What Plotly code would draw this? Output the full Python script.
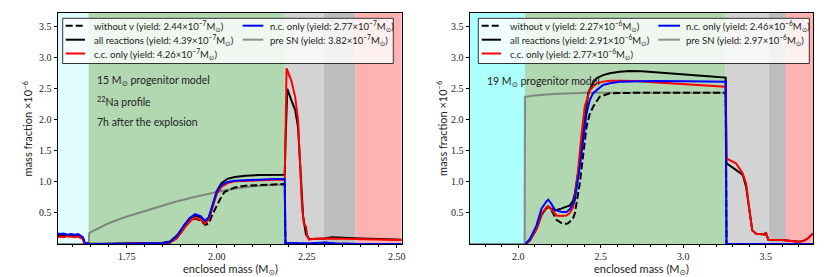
import plotly.graph_objects as go

# ---------------- data: left panel (15 Msun) ----------------
L_x_all = [1.559, 1.565, 1.575, 1.585, 1.595, 1.605, 1.615, 1.622, 1.628, 1.632,
           1.645, 1.70, 1.75, 1.80, 1.85, 1.87, 1.89, 1.91, 1.925, 1.94,
           1.955, 1.968, 1.978, 1.99, 2.00, 2.013, 2.03, 2.05, 2.08, 2.12,
           2.16, 2.189, 2.191, 2.196, 2.207, 2.218, 2.226, 2.233, 2.240, 2.248,
           2.258, 2.27, 2.30, 2.32, 2.35, 2.40, 2.45, 2.514]
L_y_all = [0.15, 0.14, 0.15, 0.13, 0.15, 0.14, 0.14, 0.12, 0.10, 0.02,
           0.005, 0.005, 0.01, 0.02, 0.02, 0.04, 0.14, 0.30, 0.41, 0.46,
           0.43, 0.37, 0.42, 0.64, 0.85, 0.98, 1.05, 1.08, 1.10, 1.11,
           1.115, 1.115, 1.60, 2.50, 2.32, 2.16, 1.88, 1.20, 0.45, 0.15,
           0.08, 0.08, 0.09, 0.11, 0.10, 0.09, 0.08, 0.07]

L_x_cc = [1.559, 1.565, 1.575, 1.585, 1.595, 1.605, 1.615, 1.622, 1.628, 1.632,
          1.645, 1.70, 1.75, 1.80, 1.85, 1.87, 1.89, 1.91, 1.925, 1.94,
          1.955, 1.968, 1.978, 1.99, 2.00, 2.013, 2.03, 2.05, 2.08, 2.12,
          2.16, 2.189, 2.191, 2.194, 2.207, 2.218, 2.226, 2.232, 2.237, 2.242,
          2.248, 2.252, 2.256, 2.27, 2.30, 2.35, 2.40, 2.45, 2.514]
L_y_cc = [0.11, 0.12, 0.11, 0.13, 0.12, 0.11, 0.12, 0.10, 0.08, 0.01,
          0.0, 0.0, 0.005, 0.01, 0.01, 0.02, 0.10, 0.26, 0.37, 0.42,
          0.39, 0.33, 0.40, 0.62, 0.80, 0.92, 0.98, 1.01, 1.02, 1.03,
          1.035, 1.035, 2.00, 2.83, 2.64, 2.37, 2.00, 1.20, 0.60, 0.33,
          0.28, 0.12, 0.07, 0.085, 0.09, 0.085, 0.08, 0.075, 0.065]

L_x_nc = [1.559, 1.565, 1.575, 1.585, 1.595, 1.605, 1.615, 1.622, 1.628, 1.634,
          1.645, 1.70, 1.75, 1.80, 1.85, 1.87, 1.89, 1.91, 1.925, 1.94,
          1.955, 1.968, 1.978, 1.99, 2.00, 2.013, 2.03, 2.05, 2.08, 2.12,
          2.16, 2.189, 2.191, 2.25, 2.30, 2.33, 2.40, 2.514]
L_y_nc = [0.17, 0.16, 0.17, 0.15, 0.16, 0.15, 0.16, 0.14, 0.11, 0.02,
          0.0, 0.0, 0.005, 0.015, 0.015, 0.03, 0.13, 0.31, 0.42, 0.48,
          0.45, 0.37, 0.43, 0.66, 0.84, 0.95, 1.00, 1.02, 1.03, 1.04,
          1.045, 1.045, 0.02, 0.01, 0.025, 0.01, 0.0, 0.0]

L_x_nonu = [1.559, 1.565, 1.575, 1.585, 1.595, 1.605, 1.615, 1.622, 1.628, 1.632,
            1.645, 1.70, 1.75, 1.80, 1.85, 1.87, 1.89, 1.91, 1.925, 1.94,
            1.955, 1.968, 1.978, 1.99, 2.00, 2.013, 2.022, 2.05, 2.08, 2.12,
            2.16, 2.189, 2.191, 2.25, 2.30, 2.33, 2.40, 2.514]
L_y_nonu = [0.13, 0.12, 0.13, 0.12, 0.13, 0.12, 0.12, 0.11, 0.09, 0.01,
            0.0, 0.0, 0.005, 0.01, 0.01, 0.02, 0.10, 0.26, 0.36, 0.41,
            0.38, 0.31, 0.33, 0.50, 0.62, 0.76, 0.84, 0.91, 0.94, 0.95,
            0.96, 0.965, 0.01, 0.005, 0.02, 0.005, 0.0, 0.0]

L_x_pre = [1.559, 1.644, 1.646, 1.661, 1.698, 1.744, 1.79, 1.837, 1.883, 1.929,
           1.976, 2.013, 2.05, 2.10, 2.15, 2.189, 2.191, 2.514]
L_y_pre = [0.0, 0.0, 0.18, 0.22, 0.33, 0.43, 0.515, 0.595, 0.675, 0.745,
           0.81, 0.855, 0.89, 0.93, 0.95, 0.96, 0.0, 0.0]

# ---------------- data: right panel (19 Msun) ----------------
R_x_all = [2.045, 2.071, 2.111, 2.141, 2.172, 2.182, 2.20, 2.222, 2.26, 2.293,
           2.313, 2.333, 2.343, 2.363, 2.383, 2.403, 2.424, 2.454, 2.474, 2.514,
           2.555, 2.615, 2.676, 2.75, 2.817, 2.918, 3.019, 3.15, 3.257, 3.262,
           3.321, 3.361, 3.381, 3.401, 3.418, 3.442, 3.482, 3.495, 3.50, 3.505,
           3.515, 3.60, 3.64, 3.70, 3.73, 3.76, 3.786]
R_y_all = [0.0, 0.06, 0.24, 0.47, 0.58, 0.60, 0.57, 0.54, 0.57, 0.60,
           0.62, 0.70, 0.81, 1.15, 1.565, 2.05, 2.43, 2.60, 2.67, 2.72,
           2.75, 2.775, 2.785, 2.78, 2.765, 2.74, 2.72, 2.70, 2.68, 1.30,
           1.19, 1.11, 0.92, 0.54, 0.22, 0.165, 0.155, 0.155, 0.19, 0.15,
           0.07, 0.065, 0.05, 0.035, 0.05, 0.10, 0.17]

R_x_cc = [2.045, 2.071, 2.111, 2.141, 2.172, 2.182, 2.20, 2.232, 2.26, 2.293,
          2.313, 2.333, 2.343, 2.363, 2.383, 2.403, 2.434, 2.474, 2.514, 2.555,
          2.615, 2.716, 2.817, 2.918, 3.019, 3.15, 3.257, 3.262, 3.321, 3.361,
          3.381, 3.401, 3.418, 3.442, 3.482, 3.495, 3.50, 3.505, 3.515, 3.60,
          3.64, 3.70, 3.73, 3.76, 3.786]
R_y_cc = [0.0, 0.057, 0.245, 0.487, 0.59, 0.606, 0.56, 0.46, 0.45, 0.46,
          0.50, 0.595, 0.75, 1.19, 1.75, 2.21, 2.48, 2.587, 2.615, 2.63,
          2.63, 2.625, 2.605, 2.587, 2.57, 2.55, 2.534, 1.38, 1.295, 1.134,
          0.972, 0.54, 0.218, 0.164, 0.15, 0.15, 0.19, 0.15, 0.07, 0.065,
          0.05, 0.035, 0.05, 0.10, 0.17]

R_x_nc = [2.045, 2.071, 2.111, 2.141, 2.172, 2.182, 2.20, 2.222, 2.26, 2.293,
          2.313, 2.343, 2.373, 2.393, 2.414, 2.434, 2.454, 2.514, 2.555, 2.615,
          2.716, 2.817, 3.019, 3.257, 3.262, 3.30, 3.40, 3.50, 3.786]
R_y_nc = [0.0, 0.083, 0.30, 0.568, 0.69, 0.713, 0.65, 0.55, 0.52, 0.514,
          0.56, 0.70, 1.24, 1.70, 2.10, 2.32, 2.43, 2.56, 2.59, 2.614,
          2.625, 2.625, 2.62, 2.614, 0.0, 0.0, 0.005, 0.0, 0.0]

R_x_nonu = [2.045, 2.071, 2.111, 2.141, 2.182, 2.20, 2.232, 2.26, 2.282, 2.30,
            2.313, 2.333, 2.343, 2.373, 2.414, 2.434, 2.454, 2.494, 2.555, 2.70,
            3.257, 3.262, 3.40, 3.786]
R_y_nonu = [0.0, 0.057, 0.245, 0.48, 0.606, 0.55, 0.39, 0.34, 0.326, 0.33,
            0.36, 0.42, 0.49, 0.972, 1.888, 2.10, 2.21, 2.372, 2.426, 2.435,
            2.437, 0.0, 0.0, 0.0]

R_x_pre = [1.708, 2.039, 2.041, 2.10, 2.212, 2.30, 2.414, 3.0, 3.257, 3.262, 3.786]
R_y_pre = [0.0, 0.0, 2.37, 2.39, 2.415, 2.425, 2.435, 2.437, 2.437, 0.0, 0.0]

# region boundaries (enclosed mass)
L_regions = [1.559, 1.644, 2.189, 2.297, 2.386, 2.514]
R_regions = [1.708, 2.040, 3.257, 3.517, 3.623, 3.786]

# legend labels
series_names = ["without ν", "all reactions", "c.c. only", "n.c. only", "pre SN"]
L_yields = ["2.44", "4.39", "4.26", "2.77", "3.82"]
R_yields = ["2.27", "2.91", "2.77", "2.46", "2.97"]
L_exp = "−7"
R_exp = "−6"

L_ticks = [1.75, 2.00, 2.25, 2.50]
L_ticktext = ["1.75", "2.00", "2.25", "2.50"]
R_ticks = [2.0, 2.5, 3.0, 3.5]
R_ticktext = ["2.0", "2.5", "3.0", "3.5"]
Y_ticks = [0.5, 1.0, 1.5, 2.0, 2.5, 3.0, 3.5]
Y_ticktext = ["0.5", "1.0", "1.5", "2.0", "2.5", "3.0", "3.5"]

# ---------------- layout geometry ----------------
# the page body has an 8px margin, so the figure is offset by 8px in the window
OFF = 8
WIN_W, WIN_H = 830, 277
W, H = WIN_W - OFF, WIN_H - OFF
PLOT_L, PLOT_R, PLOT_T, PLOT_B = 58, 813, 13, 244   # window pixel coordinates
ML, MR, MT, MB = PLOT_L - OFF, WIN_W - PLOT_R, PLOT_T - OFF, WIN_H - PLOT_B
PW = PLOT_R - PLOT_L
PH = PLOT_B - PLOT_T


def px(xp):
    return (xp - PLOT_L) / PW


def py(yp):
    return (PLOT_B - yp) / PH


styles = [
    dict(color="black", width=2, dash="7px,3px"),
    dict(color="black", width=2),
    dict(color="red", width=2),
    dict(color="blue", width=2),
    dict(color="rgba(110,110,110,0.75)", width=2),
]

fig = go.Figure()

panels = [
    ("x", "y", [(L_x_pre, L_y_pre, 4), (L_x_nonu, L_y_nonu, 0), (L_x_all, L_y_all, 1),
                (L_x_cc, L_y_cc, 2), (L_x_nc, L_y_nc, 3)]),
    ("x2", "y2", [(R_x_pre, R_y_pre, 4), (R_x_nonu, R_y_nonu, 0), (R_x_all, R_y_all, 1),
                  (R_x_cc, R_y_cc, 2), (R_x_nc, R_y_nc, 3)]),
]
for xa, ya, series in panels:
    for xs, ys, si in series:
        fig.add_trace(go.Scatter(x=xs, y=ys, mode="lines", line=styles[si],
                                 name=series_names[si], showlegend=False,
                                 xaxis=xa, yaxis=ya))

# background regions
L_colors = ["#e2fdfd", "#b2d8b2", "#d3d3d3", "#bebebe", "#ffb2b2"]
R_colors = ["#adfefe", "#b2d8b2", "#d3d3d3", "#bebebe", "#ffb2b2"]
shapes = []
for xref, yref, bounds, cols in [("x", "y domain", L_regions, L_colors),
                                 ("x2", "y2 domain", R_regions, R_colors)]:
    for i, c in enumerate(cols):
        shapes.append(dict(type="rect", xref=xref, yref=yref, x0=bounds[i], x1=bounds[i + 1],
                           y0=0, y1=1, fillcolor=c, line=dict(width=0), layer="below"))

# manual legends
annotations = []
legend_specs = [
    dict(box=(62.7, 393.3), col1=(65.7, 85, 91.7), col2=(242.7, 263.3, 268.3), yields=L_yields, exp=L_exp),
    dict(box=(478.3, 809.3), col1=(481.7, 501, 507.7), col2=(658.3, 680, 684.3), yields=R_yields, exp=R_exp),
]
rows_y = [25.7, 39.7, 53.5]
for spec in legend_specs:
    bx0, bx1 = spec["box"]
    shapes.append(dict(type="rect", xref="paper", yref="paper", x0=px(bx0), x1=px(bx1),
                       y0=py(63.5), y1=py(18.3), fillcolor="rgba(255,255,255,0.8)",
                       line=dict(color="#333333", width=1), layer="above"))
    positions = [(spec["col1"], rows_y[0]), (spec["col1"], rows_y[1]), (spec["col1"], rows_y[2]),
                 (spec["col2"], rows_y[0]), (spec["col2"], rows_y[1])]
    for si, ((lx0, lx1, tx), ry) in enumerate(positions):
        st = styles[si]
        shapes.append(dict(type="line", xref="paper", yref="paper", x0=px(lx0), x1=px(lx1),
                           y0=py(ry), y1=py(ry), layer="above",
                           line=dict(color=st["color"], width=2, dash=st.get("dash", "solid"))))
        label = (f"{series_names[si]} (yield: {spec['yields'][si]}×10<sup>{spec['exp']}</sup>"
                 f"M<sub>⊙</sub>)")
        annotations.append(dict(text=label, xref="paper", yref="paper", x=px(tx), y=py(ry),
                                xanchor="left", yanchor="middle", showarrow=False,
                                font=dict(family="Lato, DejaVu Sans", size=9.5, color="#222222")))

# panel texts
txt_font = dict(family="Lato, DejaVu Sans", size=10.5, color="#222222")
for t, xp_, yp_ in [("15 M<sub>⊙</sub> progenitor model", 94.5, 81),
                    ("<sup>22</sup>Na profile", 94.5, 101),
                    ("7h after the explosion", 94.5, 122.3),
                    ("19 M<sub>⊙</sub> progenitor model", 484.5, 82)]:
    annotations.append(dict(text=t, xref="paper", yref="paper", x=px(xp_), y=py(yp_),
                            xanchor="left", yanchor="middle", showarrow=False, font=txt_font))

# axis titles
title_font = dict(family="Lato, DejaVu Sans", size=11, color="#222222")
for xc in [230, 641.7]:
    annotations.append(dict(text="enclosed mass (M<sub>⊙</sub>)", xref="paper", yref="paper",
                            x=px(xc), y=py(269), xanchor="center", yanchor="middle",
                            showarrow=False, font=title_font))
for xc in [27, 441.5]:
    annotations.append(dict(text="mass fraction ×10<sup>−6</sup>", xref="paper", yref="paper",
                            x=px(xc), y=py(128.4), xanchor="center", yanchor="middle",
                            textangle=-90, showarrow=False, font=title_font))

tick_font = dict(family="Liberation Serif, DejaVu Serif", size=10, color="#222222")
common_x = dict(showgrid=False, zeroline=False, showline=True, linecolor="black", linewidth=1,
                mirror=True, ticks="outside", ticklen=3, tickcolor="black", tickfont=tick_font)
common_y = dict(showgrid=False, zeroline=False, showline=True, linecolor="black", linewidth=1,
                mirror=True, ticks="outside", ticklen=3.5, tickcolor="black", tickfont=tick_font,
                range=[0.0, 3.72], tickvals=Y_ticks, ticktext=Y_ticktext)

fig.update_layout(
    width=W, height=H,
    margin=dict(l=ML, r=MR, t=MT, b=MB, autoexpand=False),
    paper_bgcolor="white", plot_bgcolor="white",
    showlegend=False,
    xaxis=dict(domain=[0, px(401.7)], range=[1.559, 2.514], tickvals=L_ticks, ticktext=L_ticktext,
               minor=dict(dtick=0.05, tick0=1.5, ticks="outside", ticklen=2, tickcolor="black"),
               anchor="y", **common_x),
    yaxis=dict(domain=[0, 1], anchor="x", **common_y),
    xaxis2=dict(domain=[px(470), 1], range=[1.708, 3.786], tickvals=R_ticks, ticktext=R_ticktext,
                minor=dict(dtick=0.1, tick0=1.5, ticks="outside", ticklen=2, tickcolor="black"),
                anchor="y2", **common_x),
    yaxis2=dict(domain=[0, 1], anchor="x2", **common_y),
    shapes=shapes,
    annotations=annotations,
)

fig.write_html("out.html")
